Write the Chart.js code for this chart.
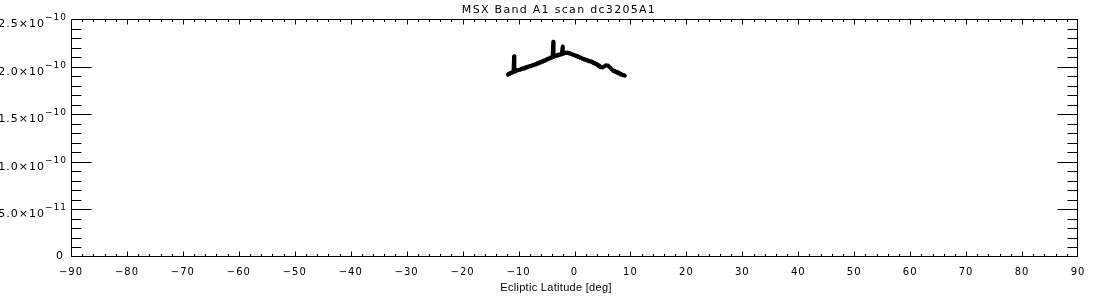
<!DOCTYPE html>
<html>
<head>
<meta charset="utf-8">
<script src="https://cdn.jsdelivr.net/npm/chart.js@4.4.1/dist/chart.umd.min.js"></script>
<style>
  html, body { margin: 0; padding: 0; background: #fff; }
  #wrap { width: 1100px; height: 300px; position: relative; }
</style>
</head>
<body>
<div id="wrap"><canvas id="c" width="1100" height="300"></canvas></div>
<script>
// ---- Data (flux in units of 1e-10) ----
const chartTitle = "MSX Band A1 scan dc3205A1";
const xAxisTitle = "Ecliptic Latitude [deg]";

const latitude = [
  -11.9,-11.7,-11.5,-11.3,-11.1,-10.9,-10.8,-10.8,-10.7,-10.5,
  -10.3,-10.1,-9.9,-9.7,-9.5,-9.3,-9.1,-8.9,-8.7,-8.5,
  -8.3,-8.1,-7.9,-7.7,-7.5,-7.3,-7.1,-6.9,-6.7,-6.5,
  -6.3,-6.1,-5.9,-5.7,-5.5,-5.3,-5.1,-4.9,-4.7,-4.5,
  -4.3,-4.1,-3.9,-3.8,-3.8,-3.7,-3.5,-3.3,-3.1,-2.9,
  -2.7,-2.5,-2.3,-2.1,-2.1,-2.0,-1.8,-1.6,-1.4,-1.2,
  -1.0,-0.8,-0.6,-0.4,-0.2,0.0,0.2,0.4,0.6,0.8,
  1.0,1.2,1.4,1.6,1.8,2.0,2.2,2.4,2.6,2.8,
  3.0,3.2,3.4,3.6,3.8,4.0,4.2,4.4,4.6,4.8,
  5.0,5.2,5.4,5.6,5.8,6.0,6.2,6.4,6.6,6.8,
  7.0,7.2,7.4,7.6,7.8,8.0,8.2,8.4,8.6,8.8,
  9.0
];
const fluxE10 = [
  1.915,1.928,1.926,1.938,1.936,1.948,2.110,1.945,1.958,1.952,
  1.963,1.961,1.968,1.966,1.978,1.974,1.986,1.981,1.993,1.990,
  2.001,1.998,2.008,2.005,2.016,2.013,2.024,2.022,2.036,2.031,
  2.045,2.041,2.054,2.050,2.064,2.060,2.074,2.071,2.086,2.082,
  2.096,2.092,2.104,2.260,2.101,2.110,2.108,2.118,2.114,2.126,
  2.122,2.133,2.129,2.210,2.134,2.143,2.139,2.148,2.142,2.147,
  2.138,2.140,2.130,2.131,2.121,2.122,2.112,2.114,2.102,2.104,
  2.093,2.094,2.082,2.083,2.072,2.074,2.064,2.066,2.055,2.058,
  2.048,2.050,2.036,2.039,2.024,2.027,2.010,2.013,1.993,1.996,
  1.990,2.000,2.004,2.014,2.012,2.012,1.998,1.990,1.972,1.965,
  1.952,1.955,1.941,1.946,1.930,1.934,1.918,1.922,1.910,1.912,
  1.905
];

const xTickValues = [-90,-80,-70,-60,-50,-40,-30,-20,-10,0,10,20,30,40,50,60,70,80,90];
const xTickLabels = ["\u221290","\u221280","\u221270","\u221260","\u221250","\u221240","\u221230","\u221220","\u221210","0","10","20","30","40","50","60","70","80","90"];
const yTickValues = [0, 0.5, 1.0, 1.5, 2.0, 2.5];
const yTickMantissa = ["0", "5.0\u00d710", "1.0\u00d710", "1.5\u00d710", "2.0\u00d710", "2.5\u00d710"];
const yTickExponent = ["", "\u221211", "\u221210", "\u221210", "\u221210", "\u221210"];
const xMinorStep = 2;
const yMinorStep = 0.1;

const points = latitude.map((x, i) => ({ x: x, y: fluxE10[i] }));

const idlAxes = {
  id: 'idlAxes',
  afterDraw(chart) {
    const ctx = chart.ctx;
    const a = chart.chartArea;
    const xs = chart.scales.x, ys = chart.scales.y;
    ctx.save();
    ctx.strokeStyle = '#000';
    ctx.fillStyle = '#000';
    ctx.lineWidth = 1;
    const L = Math.round(a.left) + 0.5, R = Math.round(a.right) - 0.5;
    const T = Math.round(a.top) + 0.5, B = Math.round(a.bottom) - 0.5;
    ctx.beginPath();
    ctx.rect(L, T, R - L, B - T);
    // x ticks
    for (let v = xs.min; v <= xs.max + 1e-9; v += xMinorStep) {
      const major = xTickValues.some(t => Math.abs(t - v) < 1e-6);
      const len = major ? 5 : 2.5;
      const px = Math.min(R, Math.max(L, Math.round(xs.getPixelForValue(v)) + 0.5));
      ctx.moveTo(px, B); ctx.lineTo(px, B - len);
      ctx.moveTo(px, T); ctx.lineTo(px, T + len);
    }
    // y ticks
    for (let i = 0; ; i++) {
      const v = ys.min + i * yMinorStep;
      if (v > ys.max + 1e-9) break;
      const major = yTickValues.some(t => Math.abs(t - v) < 1e-6);
      const len = major ? 20 : 10;
      const py = Math.min(B, Math.max(T, Math.round(ys.getPixelForValue(v)) + 0.5));
      ctx.moveTo(L, py); ctx.lineTo(L + len, py);
      ctx.moveTo(R, py); ctx.lineTo(R - len, py);
    }
    ctx.stroke();

    const fam = '"DejaVu Sans", sans-serif';
    // x tick labels
    ctx.font = '10px ' + fam;
    ctx.textAlign = 'center';
    ctx.textBaseline = 'alphabetic';
    if ('letterSpacing' in ctx) ctx.letterSpacing = '1px';
    xTickValues.forEach((v, i) => {
      ctx.fillText(xTickLabels[i], xs.getPixelForValue(v), a.bottom + 18);
    });
    // y tick labels
    yTickValues.forEach((v, i) => {
      const py = ys.getPixelForValue(v);
      const rightEdge = a.left - 4;
      ctx.textAlign = 'right';
      if (yTickExponent[i]) {
        ctx.font = '9px ' + fam;
        const ew = ctx.measureText(yTickExponent[i]).width;
        ctx.fillText(yTickExponent[i], rightEdge, py + 1);
        ctx.font = '11px ' + fam;
        ctx.fillText(yTickMantissa[i], rightEdge - ew, py + 8);
      } else {
        ctx.font = '11px ' + fam;
        ctx.fillText(yTickMantissa[i], a.left - 7, py + 2);
      }
    });
    // title
    ctx.textAlign = 'center';
    ctx.font = '11px ' + fam;
    if ('letterSpacing' in ctx) ctx.letterSpacing = '1.3px';
    ctx.fillText(chartTitle, 559, 13);
    // x-axis title
    if ('letterSpacing' in ctx) ctx.letterSpacing = '0.3px';
    ctx.font = '11px "Liberation Sans", sans-serif';
    ctx.fillText(xAxisTitle, 556, 291);
    ctx.restore();
  }
};

new Chart(document.getElementById('c'), {
  type: 'scatter',
  data: {
    datasets: [{
      data: points,
      showLine: true,
      borderColor: '#000',
      backgroundColor: '#000',
      borderWidth: 4,
      pointRadius: 0,
      tension: 0,
      borderJoinStyle: 'round',
      borderCapStyle: 'round'
    }]
  },
  options: {
    responsive: false,
    animation: false,
    layout: { padding: { left: 71, right: 22, top: 19, bottom: 43 } },
    plugins: { legend: { display: false }, tooltip: { enabled: false }, title: { display: false } },
    scales: {
      x: { type: 'linear', min: -90, max: 90, display: false },
      y: { type: 'linear', min: 0, max: 2.5, display: false }
    }
  },
  plugins: [idlAxes]
});
</script>
</body>
</html>
